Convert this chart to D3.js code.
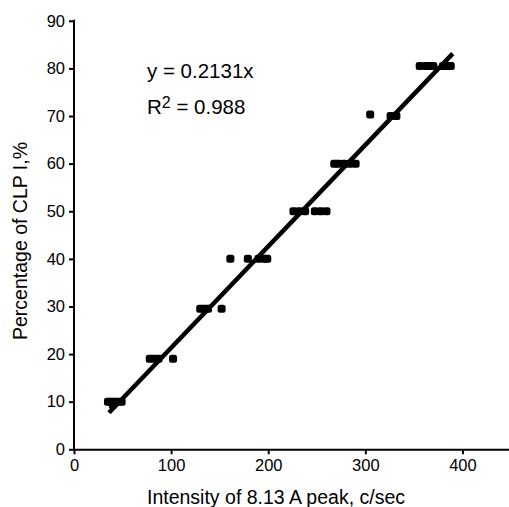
<!DOCTYPE html>
<html><head><meta charset="utf-8">
<script src="https://cdn.jsdelivr.net/npm/d3@7"></script>
<style>body{margin:0;background:#fff}svg{display:block}text{font-family:"Liberation Sans",Arial,sans-serif;fill:#000}</style>
</head><body>
<svg id="c" width="509" height="507"></svg>
<script>
const xValues = [35,38,41,45,49,40, 78,82,87,102, 130,134,138,152, 161,179,190,196,199, 226,232,238,248,254,260, 268,272,278,284,290, 305,326,332, 356,362,366,370,380,385,388];
const yValues = [10,10,10,10,10,9.3, 19,19,19,19, 29.5,29.5,29.5,29.5, 40,40,40,40,40, 50,50,50,50,50,50, 60,60,60,60,60, 70.3,70,70, 80.5,80.5,80.5,80.5,80.5,80.5,80.5];
const slope = 0.2131;
const fitRange = [36, 390];
const xTicks = [0,100,200,300,400];
const yTicks = [0,10,20,30,40,50,60,70,80,90];

const svg = d3.select("#c");
const x = d3.scaleLinear().domain([0,450]).range([74,511]);
const y = d3.scaleLinear().domain([0,90]).range([449.3,20.8]);

const xa = svg.append("g").attr("transform","translate(0,449.3)")
  .call(d3.axisBottom(x).tickValues(xTicks).tickSize(5).tickSizeOuter(0).tickPadding(5));
const ya = svg.append("g").attr("transform","translate(74,0)")
  .call(d3.axisLeft(y).tickValues(yTicks).tickSize(5).tickSizeOuter(0).tickPadding(4));
[xa,ya].forEach(a=>{
  a.select(".domain").attr("stroke","#000").attr("stroke-width",2);
  a.selectAll(".tick line").attr("stroke","#000").attr("stroke-width",2);
  a.selectAll(".tick text").style("font-size","16.5px").attr("fill","#000");
});
ya.select(".domain").attr("d","M0,"+(y(90)-1)+"V"+(y(0)+1));

// fit line
svg.append("line")
  .attr("x1",x(fitRange[0])).attr("y1",y(slope*fitRange[0]))
  .attr("x2",x(fitRange[1])).attr("y2",y(slope*fitRange[1]))
  .attr("stroke","#000").attr("stroke-width",4.5);

// points
svg.append("g").selectAll("rect").data(xValues).join("rect")
  .attr("x",(d)=>x(d)-4).attr("y",(d,i)=>y(yValues[i])-4)
  .attr("width",8).attr("height",8).attr("rx",2.5).attr("fill","#000");

// equation
svg.append("text").attr("x",147).attr("y",77.5).style("font-size","20.5px").text("y = 0.2131x");
const r = svg.append("text").attr("x",147).attr("y",113.5).style("font-size","20.5px");
r.append("tspan").text("R");
r.append("tspan").attr("dy",-6).style("font-size","16px").text("2");
r.append("tspan").attr("dy",6).text(" = 0.988");

// axis titles
svg.append("text").attr("x",276).attr("y",504).attr("text-anchor","middle").style("font-size","19.5px")
  .text("Intensity of 8.13 A peak, c/sec");
svg.append("text").attr("transform","translate(27,241) rotate(-90)").attr("text-anchor","middle").style("font-size","19.5px")
  .text("Percentage of CLP I,%");
</script>
</body></html>
